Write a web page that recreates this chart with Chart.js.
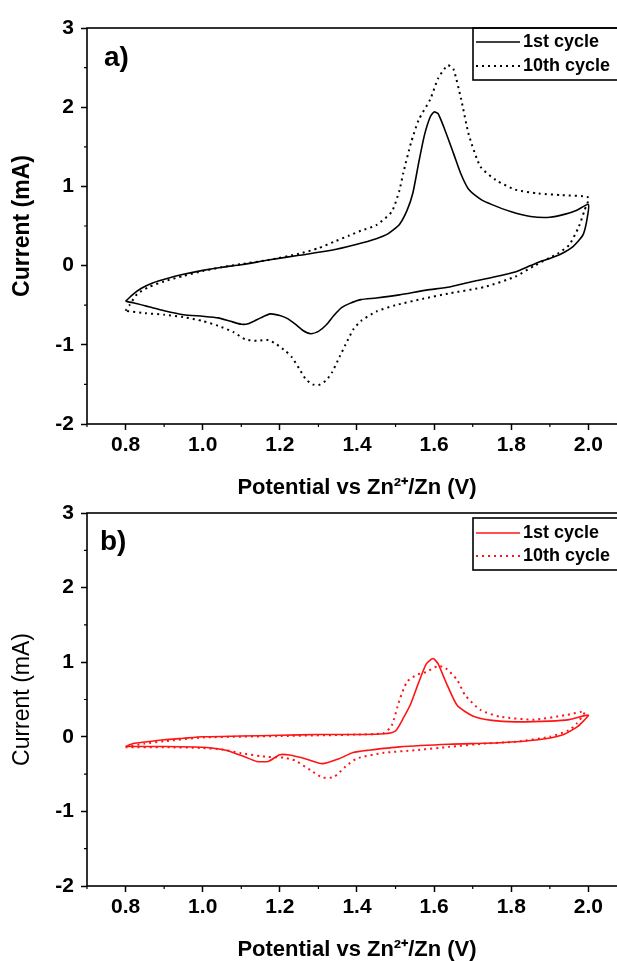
<!DOCTYPE html>
<html>
<head>
<meta charset="utf-8">
<script src="https://cdn.jsdelivr.net/npm/chart.js@4.4.1/dist/chart.umd.min.js"></script>
<style>
  html, body { margin: 0; padding: 0; background: #fff; overflow: hidden; }
  body { width: 617px; height: 961px; position: relative; }
  .panel { position: absolute; left: 0; }
  #panelA { top: 0; }
  #panelB { top: 483px; }
</style>
</head>
<body>
<div class="panel" id="panelA"><canvas id="cvA" width="660" height="500"></canvas></div>
<div class="panel" id="panelB"><canvas id="cvB" width="660" height="478"></canvas></div>
<script>
// CV loops: each list starts at 0.8 V, sweeps up to 2.0 V and comes back
// a) black traces
const potentialA1 = [0.80, 0.82, 0.84, 0.87, 0.91, 0.95, 1.00, 1.05, 1.10, 1.17, 1.25, 1.33, 1.40, 1.45, 1.48, 1.51, 1.53, 1.545, 1.56, 1.575, 1.59, 1.60, 1.61, 1.625, 1.65, 1.67, 1.69, 1.72, 1.75, 1.80, 1.85, 1.90, 1.94, 1.97, 2.00,
  1.995, 1.985, 1.96, 1.93, 1.90, 1.88, 1.85, 1.81, 1.75, 1.70, 1.64, 1.58, 1.51, 1.45, 1.41, 1.38, 1.36, 1.34, 1.32, 1.30, 1.28, 1.26, 1.24, 1.22, 1.20, 1.175, 1.15, 1.12, 1.10, 1.07, 1.04, 1.00, 0.95, 0.90, 0.86, 0.82, 0.80];
const currentA1 = [-0.45, -0.36, -0.29, -0.22, -0.16, -0.11, -0.06, -0.02, 0.01, 0.07, 0.13, 0.19, 0.27, 0.34, 0.40, 0.52, 0.70, 0.92, 1.30, 1.65, 1.88, 1.94, 1.92, 1.75, 1.42, 1.15, 0.96, 0.84, 0.77, 0.68, 0.62, 0.61, 0.65, 0.70, 0.77,
  0.55, 0.38, 0.24, 0.15, 0.09, 0.06, 0.00, -0.08, -0.15, -0.20, -0.27, -0.31, -0.37, -0.41, -0.43, -0.48, -0.53, -0.63, -0.75, -0.83, -0.86, -0.82, -0.74, -0.67, -0.63, -0.61, -0.66, -0.73, -0.74, -0.70, -0.66, -0.64, -0.62, -0.57, -0.52, -0.47, -0.45];

const potentialA10 = [0.80, 0.81, 0.83, 0.86, 0.90, 0.95, 1.00, 1.05, 1.10, 1.17, 1.25, 1.30, 1.34, 1.38, 1.41, 1.45, 1.49, 1.51, 1.52, 1.54, 1.56, 1.59, 1.61, 1.635, 1.65, 1.67, 1.69, 1.72, 1.76, 1.81, 1.87, 1.93, 2.00,
  1.99, 1.975, 1.95, 1.92, 1.90, 1.86, 1.81, 1.73, 1.64, 1.57, 1.50, 1.45, 1.41, 1.39, 1.37, 1.355, 1.335, 1.32, 1.30, 1.285, 1.268, 1.25, 1.23, 1.215, 1.19, 1.17, 1.14, 1.11, 1.08, 1.04, 1.00, 0.95, 0.90, 0.85, 0.80];
const currentA10 = [-0.57, -0.50, -0.36, -0.27, -0.20, -0.13, -0.07, -0.02, 0.02, 0.07, 0.15, 0.22, 0.30, 0.38, 0.44, 0.51, 0.68, 0.95, 1.17, 1.55, 1.84, 2.10, 2.36, 2.53, 2.48, 2.10, 1.65, 1.25, 1.08, 0.96, 0.91, 0.89, 0.86,
  0.70, 0.49, 0.26, 0.15, 0.10, 0.00, -0.14, -0.27, -0.35, -0.42, -0.50, -0.58, -0.70, -0.81, -1.00, -1.15, -1.35, -1.45, -1.51, -1.50, -1.44, -1.30, -1.15, -1.08, -0.99, -0.94, -0.95, -0.93, -0.84, -0.76, -0.70, -0.65, -0.62, -0.60, -0.57];

// b) red traces
const potentialB1 = [0.80, 0.82, 0.85, 0.90, 0.95, 1.00, 1.10, 1.20, 1.30, 1.40, 1.47, 1.50, 1.52, 1.54, 1.56, 1.58, 1.597, 1.61, 1.63, 1.66, 1.70, 1.75, 1.81, 1.90, 1.95, 2.00,
  1.985, 1.97, 1.93, 1.87, 1.77, 1.64, 1.51, 1.43, 1.39, 1.355, 1.31, 1.27, 1.225, 1.20, 1.17, 1.14, 1.11, 1.06, 1.00, 0.90, 0.80];
const currentB1 = [-0.13, -0.09, -0.07, -0.04, -0.02, 0.00, 0.01, 0.02, 0.03, 0.03, 0.04, 0.08, 0.25, 0.45, 0.73, 0.98, 1.05, 0.98, 0.74, 0.42, 0.28, 0.22, 0.20, 0.21, 0.23, 0.29,
  0.20, 0.13, 0.02, -0.04, -0.08, -0.10, -0.135, -0.18, -0.21, -0.29, -0.36, -0.30, -0.245, -0.24, -0.33, -0.33, -0.27, -0.18, -0.14, -0.13, -0.13];

const potentialB10 = [0.80, 0.85, 0.90, 1.00, 1.20, 1.40, 1.47, 1.49, 1.51, 1.53, 1.555, 1.58, 1.61, 1.63, 1.66, 1.68, 1.72, 1.77, 1.86, 1.94, 1.99,
  1.97, 1.95, 1.90, 1.81, 1.73, 1.64, 1.55, 1.47, 1.40, 1.37, 1.34, 1.31, 1.28, 1.24, 1.21, 1.17, 1.15, 1.10, 1.05, 1.00, 0.90, 0.80];
const currentB10 = [-0.14, -0.09, -0.06, -0.01, 0.01, 0.03, 0.05, 0.15, 0.49, 0.74, 0.83, 0.87, 0.95, 0.92, 0.76, 0.56, 0.36, 0.27, 0.23, 0.29, 0.335,
  0.18, 0.09, 0.00, -0.067, -0.09, -0.135, -0.18, -0.215, -0.29, -0.40, -0.54, -0.545, -0.45, -0.32, -0.28, -0.27, -0.26, -0.22, -0.17, -0.15, -0.14, -0.14];

const cycleLabels = ['1st cycle', '10th cycle'];
const xTitle = 'Potential vs Zn²⁺/Zn (V)';
const yTitle = 'Current (mA)';

const FONT = '"Liberation Sans", Arial, sans-serif';
Chart.defaults.font.family = FONT;
Chart.defaults.color = '#000';

function toPoints(xs, ys) {
  return xs.map((x, i) => ({ x: x, y: ys[i] }));
}

function onStep(v, step) {
  const r = v / step;
  return Math.abs(r - Math.round(r)) < 1e-6;
}

// box frame + short minor ticks
const frameTicks = {
  id: 'frameTicks',
  afterDraw(chart) {
    const { ctx, chartArea: a, scales: { x, y } } = chart;
    ctx.save();
    ctx.strokeStyle = '#000';
    ctx.lineWidth = 1.6;
    ctx.strokeRect(a.left, a.top, a.right - a.left, a.bottom - a.top);
    ctx.lineWidth = 1.2;
    ctx.beginPath();
    x.ticks.forEach(t => {
      if (onStep(t.value, 0.2)) return;
      const px = x.getPixelForValue(t.value);
      ctx.moveTo(px, a.bottom);
      ctx.lineTo(px, a.bottom + 3);
    });
    y.ticks.forEach(t => {
      if (onStep(t.value, 1)) return;
      const py = y.getPixelForValue(t.value);
      ctx.moveTo(a.left, py);
      ctx.lineTo(a.left - 3, py);
    });
    ctx.stroke();
    ctx.restore();
  }
};

// legend in a box at the top right + panel letter
const boxLegend = {
  id: 'boxLegend',
  afterDraw(chart, args, opts) {
    const { ctx, chartArea: a } = chart;
    ctx.save();
    ctx.font = 'bold 28px ' + FONT;
    ctx.fillStyle = '#000';
    ctx.textBaseline = 'middle';
    ctx.fillText(opts.letter, opts.letterX, opts.letterY);

    const left = opts.left, top = opts.top;
    ctx.lineWidth = 1.6;
    ctx.strokeStyle = '#000';
    ctx.strokeRect(left, top, a.right + 10 - left, opts.height);
    ctx.font = 'bold 18px ' + FONT;
    chart.data.datasets.forEach((ds, i) => {
      const cy = top + opts.firstRow + i * opts.rowGap;
      ctx.strokeStyle = ds.borderColor;
      ctx.lineWidth = ds.borderWidth;
      ctx.setLineDash(ds.borderDash || []);
      ctx.beginPath();
      ctx.moveTo(left + 3, cy);
      ctx.lineTo(left + 47, cy);
      ctx.stroke();
      ctx.setLineDash([]);
      ctx.fillStyle = '#000';
      ctx.fillText(ds.label, left + 50, cy);
    });
    ctx.restore();
  }
};

function buildPanel(id, p) {
  return new Chart(document.getElementById(id), {
    type: 'scatter',
    data: {
      datasets: [
        { label: cycleLabels[0], data: toPoints(p.x1, p.y1), borderColor: p.color, borderWidth: 1.6,
          showLine: true, pointRadius: 0, tension: 0.2 },
        { label: cycleLabels[1], data: toPoints(p.x10, p.y10), borderColor: p.color, borderWidth: 2,
          borderDash: [2, 4], showLine: true, pointRadius: 0, tension: 0.2 }
      ]
    },
    options: {
      responsive: false,
      animation: false,
      layout: { padding: { top: p.top, right: 33, left: 0, bottom: 0 } },
      plugins: {
        legend: { display: false },
        tooltip: { enabled: false },
        boxLegend: p.legend
      },
      scales: {
        x: {
          type: 'linear', min: 0.7, max: 2.1,
          afterFit: s => { s.height = p.xHeight; s.paddingLeft = 0; s.paddingRight = 0; },
          border: { display: false },
          grid: {
            drawOnChartArea: false, tickLength: 6, tickWidth: 1.5,
            tickColor: c => onStep(c.tick.value, 0.2) ? '#000' : 'rgba(0,0,0,0)'
          },
          ticks: {
            stepSize: 0.1, autoSkip: false, maxRotation: 0, padding: 3,
            font: { size: 21, weight: 'bold' },
            callback: v => (onStep(v, 0.2) && v > 0.75 && v < 2.05) ? v.toFixed(1) : ''
          },
          title: {
            display: true, text: xTitle,
            font: { size: 22, weight: 'bold', lineHeight: 1 },
            padding: { top: 0, bottom: p.xTitlePad }
          }
        },
        y: {
          type: 'linear', min: -2, max: 3,
          afterFit: s => { s.width = 87; s.paddingTop = 0; s.paddingBottom = 0; },
          border: { display: false },
          grid: {
            drawOnChartArea: false, tickLength: 6, tickWidth: 1.5,
            tickColor: c => onStep(c.tick.value, 1) ? '#000' : 'rgba(0,0,0,0)'
          },
          ticks: {
            stepSize: 0.5, autoSkip: false, padding: 7,
            font: { size: 21, weight: 'bold' },
            callback: v => onStep(v, 1) ? String(Math.round(v)) : ''
          },
          title: {
            display: true, text: yTitle,
            font: { size: 23, weight: p.yTitleWeight, lineHeight: 1 },
            padding: { top: 11, bottom: 0 }
          }
        }
      }
    },
    plugins: [frameTicks, boxLegend]
  });
}

buildPanel('cvA', {
  x1: potentialA1, y1: currentA1, x10: potentialA10, y10: currentA10,
  color: '#000000', top: 28, xHeight: 76, xTitlePad: 1, yTitleWeight: 'bold',
  legend: { letter: 'a)', letterX: 104, letterY: 58, left: 473, top: 28, height: 52, firstRow: 14, rowGap: 24 }
});

buildPanel('cvB', {
  x1: potentialB1, y1: currentB1, x10: potentialB10, y10: currentB10,
  color: '#ff1414', top: 30, xHeight: 75, xTitlePad: 0, yTitleWeight: 'normal',
  legend: { letter: 'b)', letterX: 100, letterY: 59, left: 473, top: 35, height: 52, firstRow: 15, rowGap: 23 }
});
</script>
</body>
</html>
